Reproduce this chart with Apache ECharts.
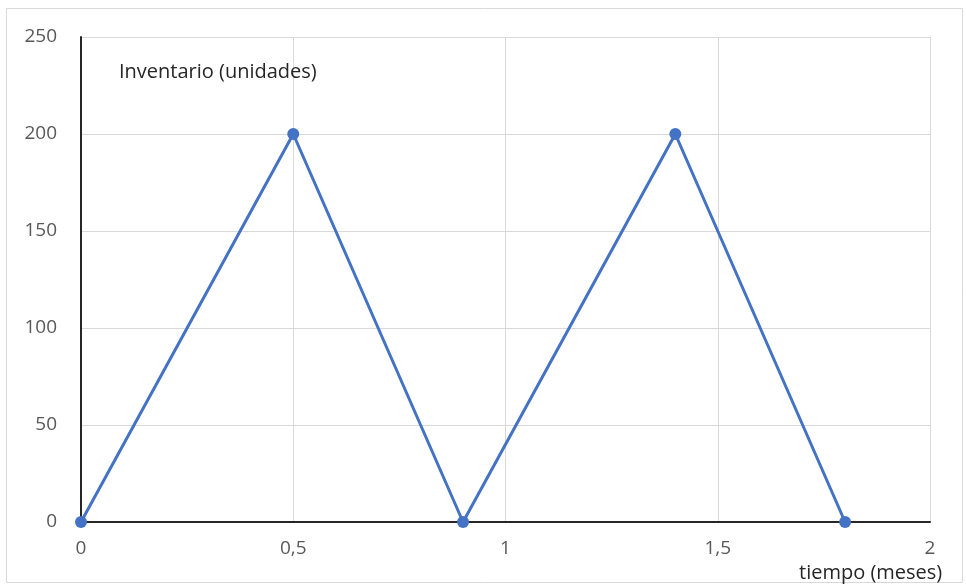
<!DOCTYPE html>
<html>
<head>
<meta charset="utf-8">
<script src="https://cdn.jsdelivr.net/npm/echarts@6/dist/echarts.min.js"></script>
<style>html,body{margin:0;padding:0;background:#fff}#c{width:966px;height:584px}</style>
</head>
<body>
<div id="c"></div>
<script>
var timeMonths = [0, 0.5, 0.9, 1.4, 1.8];
var inventory = [0, 200, 0, 200, 0];
var yTitle = 'Inventario (unidades)';
var xTitle = 'tiempo (meses)';

var chart = echarts.init(document.getElementById('c'));
chart.setOption({
  animation: false,
  backgroundColor: '#fff',
  textStyle: { fontFamily: 'Open Sans' },
  graphic: [{
    type: 'rect', shape: { x: 6.5, y: 8.5, width: 956, height: 574 },
    style: { fill: 'none', stroke: '#d9d9d9', lineWidth: 1 }, silent: true
  }],
  title: [
    { text: yTitle, left: 114, top: 57, textStyle: { fontSize: 20, fontWeight: 'normal', color: '#262626', fontFamily: 'Open Sans' } },
    { text: xTitle, left: 794, top: 558, textStyle: { fontSize: 20, fontWeight: 'normal', color: '#262626', fontFamily: 'Open Sans' } }
  ],
  grid: { left: 81, right: 36, top: 37, bottom: 62 },
  xAxis: {
    type: 'value', min: 0, max: 2, interval: 0.5,
    axisLine: { show: true, onZero: true, lineStyle: { color: '#262626', width: 2 } },
    axisTick: { show: false },
    axisLabel: { color: '#595959', fontSize: 19, margin: 17, formatter: function (v) { return String(v).replace('.', ','); } },
    splitLine: { show: true, lineStyle: { color: '#d9d9d9', width: 1 } }
  },
  yAxis: {
    type: 'value', min: 0, max: 250, interval: 50,
    axisLine: { show: true, lineStyle: { color: '#262626', width: 2 } },
    axisTick: { show: false },
    axisLabel: { color: '#595959', fontSize: 19, margin: 24 },
    splitLine: { show: true, lineStyle: { color: '#d9d9d9', width: 1 } }
  },
  series: [{
    type: 'line',
    data: timeMonths.map(function (t, i) { return [t, inventory[i]]; }),
    symbol: 'circle', symbolSize: 12,
    lineStyle: { color: '#4472C4', width: 3 },
    itemStyle: { color: '#4472C4' }
  }]
});
</script>
</body>
</html>
